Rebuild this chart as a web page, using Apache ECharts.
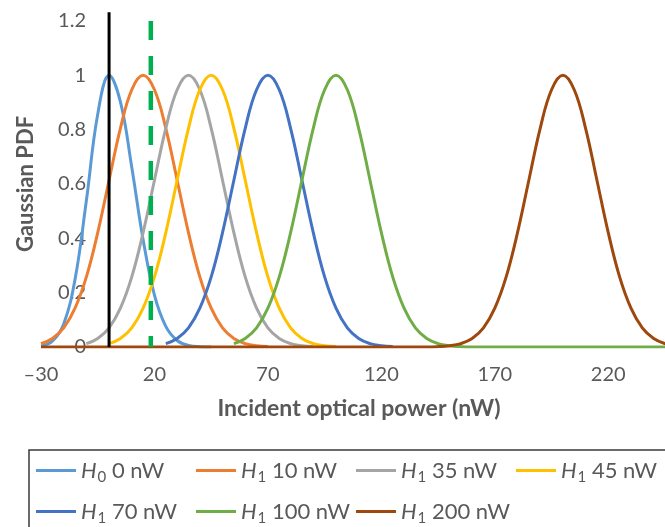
<!DOCTYPE html>
<html><head><meta charset="utf-8">
<script src="https://cdn.jsdelivr.net/npm/echarts@6/dist/echarts.min.js"></script>
<style>html,body{margin:0;padding:0;background:#fff}#c{width:665px;height:527px}</style>
</head><body><div id="c"></div>
<script>
// ---- data ----
const xTicks = [-30, 20, 70, 120, 170, 220];
const yTicks = [0, 0.2, 0.4, 0.6, 0.8, 1, 1.2];
const seriesNames = ['H0 0 nW', 'H1 10 nW', 'H1 35 nW', 'H1 45 nW', 'H1 70 nW', 'H1 100 nW', 'H1 200 nW'];
const seriesColors = ['#5B9BD5', '#ED7D31', '#A5A5A5', '#FFC000', '#4472C4', '#70AD47', '#9E480E'];

const xH0 = [-30, -25, -20, -15, -10, -5, 0, 5, 10, 15, 20, 25, 30, 35, 40, 45];
const yH0 = [0.004, 0.021, 0.085, 0.249, 0.539, 0.857, 1, 0.902, 0.662, 0.395, 0.191, 0.076, 0.024, 0.006, 0.001, 0];

const xH10 = [-30, -25, -20, -15, -10, -5, 0, 5, 10, 15, 20, 25, 30, 35, 40, 45, 50, 55, 60, 65, 70];
const yH10 = [0.0125, 0.0313, 0.0705, 0.143, 0.258, 0.421, 0.614, 0.805, 0.947, 1, 0.947, 0.805, 0.614, 0.421, 0.258, 0.143, 0.0705, 0.0313, 0.0125, 0.0045, 0.0014];

const xH35 = [-10, -5, 0, 5, 10, 15, 20, 25, 30, 35, 40, 45, 50, 55, 60, 65, 70, 75, 80, 85, 90];
const yH35 = [0.0125, 0.0313, 0.0705, 0.143, 0.258, 0.421, 0.614, 0.805, 0.947, 1, 0.947, 0.805, 0.614, 0.421, 0.258, 0.143, 0.0705, 0.0313, 0.0125, 0.0045, 0.0014];

const xH45 = [0, 5, 10, 15, 20, 25, 30, 35, 40, 45, 50, 55, 60, 65, 70, 75, 80, 85, 90, 95, 100];
const yH45 = [0.0125, 0.0313, 0.0705, 0.143, 0.258, 0.421, 0.614, 0.805, 0.947, 1, 0.947, 0.805, 0.614, 0.421, 0.258, 0.143, 0.0705, 0.0313, 0.0125, 0.0045, 0.0014];

const xH70 = [25, 30, 35, 40, 45, 50, 55, 60, 65, 70, 75, 80, 85, 90, 95, 100, 105, 110, 115, 120, 125];
const yH70 = [0.0125, 0.0313, 0.0705, 0.143, 0.258, 0.421, 0.614, 0.805, 0.947, 1, 0.947, 0.805, 0.614, 0.421, 0.258, 0.143, 0.0705, 0.0313, 0.0125, 0.0045, 0.0014];

const xH100 = [55, 60, 65, 70, 75, 80, 85, 90, 95, 100, 105, 110, 115, 120, 125, 130, 135, 140, 145, 150, 155, 160, 245];
const yH100 = [0.0125, 0.0313, 0.0705, 0.143, 0.258, 0.421, 0.614, 0.805, 0.947, 1, 0.947, 0.805, 0.614, 0.421, 0.258, 0.143, 0.0705, 0.0313, 0.0125, 0.0045, 0.0014, 0, 0];

const xH200 = [-30, 140, 145, 150, 155, 160, 165, 170, 175, 180, 185, 190, 195, 200, 205, 210, 215, 220, 225, 230, 235, 240, 245, 250];
const yH200 = [0, 0, 0.0014, 0.0045, 0.0125, 0.0313, 0.0705, 0.143, 0.258, 0.421, 0.614, 0.805, 0.947, 1, 0.947, 0.805, 0.614, 0.421, 0.258, 0.143, 0.0705, 0.0313, 0.0125, 0.0045];

const thresholdX = [0, 0];
const thresholdY = [0, 1.232];
const decisionX = [18.4, 18.4];
const decisionY = [1.2, 0];

// ---- chart ----
const zip = (xs, ys) => xs.map((x, i) => [x, ys[i]]);
const curveX = [xH0, xH10, xH35, xH45, xH70, xH100, xH200];
const curveY = [yH0, yH10, yH35, yH45, yH70, yH100, yH200];
const FONT = 'Lato';
const TXT = '#595959';

const series = seriesNames.map((n, i) => ({
  name: n, type: 'line', data: zip(curveX[i], curveY[i]),
  smooth: 0.4, symbol: 'none', color: seriesColors[i],
  lineStyle: { width: 3, color: seriesColors[i] }
}));
series.push({
  name: 'threshold', type: 'line', data: zip(thresholdX, thresholdY), clip: false,
  symbol: 'none', z: 5, lineStyle: { width: 3, color: '#000000' }
});
series.push({
  name: 'decision', type: 'line', data: zip(decisionX, decisionY), clip: false,
  symbol: 'none', z: 5, lineStyle: { width: 4.5, color: '#00B050', type: [19, 16] }
});

const chart = echarts.init(document.getElementById('c'), null, { renderer: 'canvas' });
chart.setOption({
  animation: false,
  backgroundColor: '#ffffff',
  grid: { left: 41, right: 0, top: 21, bottom: 180, containLabel: false, outerBoundsMode: 'none' },
  xAxis: {
    type: 'value', min: -30, max: 245,
    axisLine: { show: false },
    axisTick: { show: false },
    splitLine: { show: false },
    axisLabel: { customValues: xTicks, margin: 18, fontFamily: FONT, fontSize: 20, color: TXT,
      formatter: v => (v < 0 ? '\u2013' + Math.abs(v) : String(v)) },
    name: 'Incident optical power (nW)', nameLocation: 'middle', nameGap: 50,
    nameTextStyle: { fontFamily: FONT, fontSize: 23, fontWeight: 'bold', color: TXT, padding: [0, 0, 0, 12] }
  },
  yAxis: {
    type: 'value', min: 0, max: 1.2, interval: 0.2,
    offset: -68,
    axisLine: { show: false },
    axisTick: { show: false },
    splitLine: { show: false },
    axisLabel: { customValues: yTicks, margin: 23, fontFamily: FONT, fontSize: 20, color: TXT },
    name: 'Gaussian PDF', nameLocation: 'middle', nameGap: 72,
    nameTextStyle: { fontFamily: FONT, fontSize: 22, fontWeight: 'bold', color: TXT }
  },
  legend: {
    data: seriesNames,
    left: 29, top: 450, width: 650,
    orient: 'horizontal',
    icon: 'rect',
    itemGap: 0, itemWidth: 40, itemHeight: 3,
    padding: [0, 10, 0, 7],
    borderColor: '#3a3a3a', borderWidth: 1.5,
    textStyle: {
      width: 115, lineHeight: 41, fontFamily: FONT, fontSize: 22, color: TXT,
      rich: {
        h: { fontFamily: FONT, fontSize: 22, fontStyle: 'italic', color: TXT },
        s: { fontFamily: FONT, fontSize: 15, color: TXT, padding: [13, 0, 0, 1] },
        t: { fontFamily: FONT, fontSize: 22, color: TXT }
      }
    },
    formatter: name => {
      const m = name.match(/^H(\d)\s(.*)$/);
      return '{h|H}{s|' + m[1] + '}{t| ' + m[2] + '}';
    }
  },
  series: series
});
</script></body></html>
